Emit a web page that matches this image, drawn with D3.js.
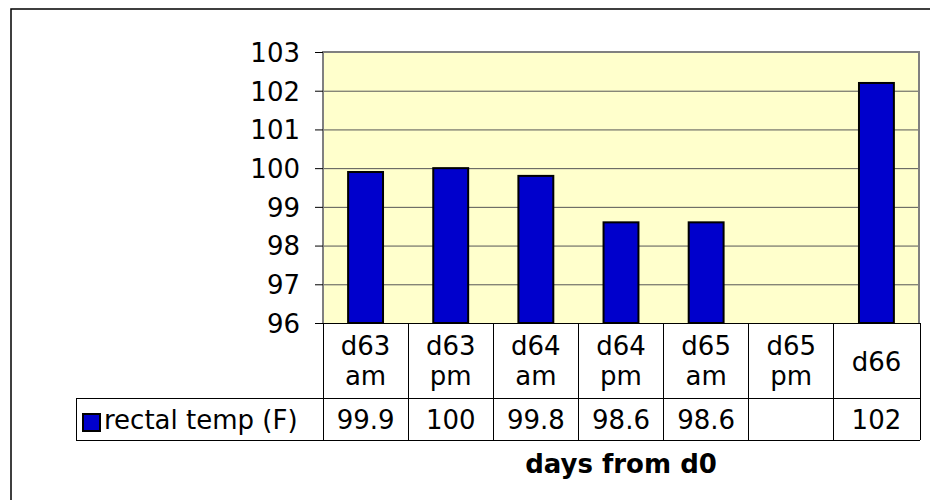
<!DOCTYPE html>
<html>
<head>
<meta charset="utf-8">
<script src="https://cdn.jsdelivr.net/npm/d3@7"></script>
<style>
    body { margin: 0; background: #fff; }
    text { font-family: "DejaVu Sans", Verdana, sans-serif; fill: #000; }
</style>
</head>
<body>
<script>
var categories = ["d63 am", "d63 pm", "d64 am", "d64 pm", "d65 am", "d65 pm", "d66"];
var temps = [99.9, 100, 99.8, 98.6, 98.6, null, 102.2];
var tableText = ["99.9", "100", "99.8", "98.6", "98.6", "", "102"];
var yTicks = [96, 97, 98, 99, 100, 101, 102, 103];
var seriesName = "rectal temp (F)";
var axisTitle = "days from d0";

var width = 930,
    height = 500;

var plot = {
    left: 323,
    right: 919,
    top: 52,
    bottom: 323
};
var table = {
    left: 76,
    row1: 398,
    row2: 440
};
var fontSize = 26;

var svg = d3.select("body").append("svg")
    .attr("width", width)
    .attr("height", height);

// outer frame, runs off the right/bottom of the picture
svg.append("rect")
    .attr("x", 11)
    .attr("y", 9)
    .attr("width", 960)
    .attr("height", 540)
    .style("fill", "#fff")
    .style("stroke", "#000")
    .style("stroke-width", 1.5);

var x = d3.scaleBand()
    .domain(categories)
    .range([plot.left, plot.right]);

var y = d3.scaleLinear()
    .domain([96, 103])
    .range([plot.bottom, plot.top]);

svg.append("rect")
    .attr("x", plot.left)
    .attr("y", plot.top)
    .attr("width", plot.right - plot.left)
    .attr("height", plot.bottom - plot.top)
    .style("fill", "#ffffcc");

// gridlines
svg.append("g")
    .attr("transform", "translate(" + plot.left + ",0)")
    .call(d3.axisLeft(y).tickValues(yTicks).tickSize(-(plot.right - plot.left)).tickFormat(""))
    .call(function(g) {
        g.select(".domain").remove();
        g.selectAll("line").style("stroke", "#555").style("stroke-width", 1);
    });

// plot border
svg.append("path")
    .attr("d", "M" + plot.left + "," + plot.bottom + "V" + plot.top + "H" + plot.right + "V" + plot.bottom)
    .style("fill", "none")
    .style("stroke", "#808080")
    .style("stroke-width", 2);

var barWidth = x.bandwidth() * 0.41;

svg.append("g").selectAll(".bar")
    .data(categories.map(function(c, i) {
        return { cat: c, value: temps[i] };
    }).filter(function(d) { return d.value != null; }))
    .enter().append("rect")
    .attr("class", "bar")
    .attr("x", function(d) { return x(d.cat) + (x.bandwidth() - barWidth) / 2; })
    .attr("y", function(d) { return y(d.value); })
    .attr("width", barWidth)
    .attr("height", function(d) { return y(96) - y(d.value); })
    .style("fill", "#0000cc")
    .style("stroke", "#000")
    .style("stroke-width", 2);

// y axis ticks + labels
svg.append("g")
    .attr("transform", "translate(" + plot.left + ",0)")
    .call(d3.axisLeft(y).tickValues(yTicks).tickSize(8).tickPadding(15).tickFormat(d3.format("d")))
    .call(function(g) {
        g.select(".domain").remove();
        g.selectAll("line").style("stroke", "#000");
        g.selectAll("text")
            .style("font-family", "\"DejaVu Sans\", Verdana, sans-serif")
            .style("font-size", fontSize + "px")
            .attr("dy", "0.36em");
    });

// data table lines
var tableLines = svg.append("g")
    .style("stroke", "#000")
    .style("stroke-width", 1)
    .style("shape-rendering", "crispEdges");

tableLines.append("line")
    .attr("x1", plot.left).attr("x2", plot.right + 1)
    .attr("y1", plot.bottom).attr("y2", plot.bottom);
tableLines.append("line")
    .attr("x1", table.left).attr("x2", plot.right + 1)
    .attr("y1", table.row1).attr("y2", table.row1);
tableLines.append("line")
    .attr("x1", table.left).attr("x2", plot.right + 1)
    .attr("y1", table.row2).attr("y2", table.row2);
tableLines.append("line")
    .attr("x1", table.left).attr("x2", table.left)
    .attr("y1", table.row1).attr("y2", table.row2);

tableLines.selectAll(".col")
    .data(categories.concat(["end"]))
    .enter().append("line")
    .attr("class", "col")
    .attr("x1", function(d, i) { return i < categories.length ? x(d) : plot.right + 1; })
    .attr("x2", function(d, i) { return i < categories.length ? x(d) : plot.right + 1; })
    .attr("y1", plot.bottom)
    .attr("y2", table.row2);

// category labels
var catLabels = svg.append("g").selectAll(".cat")
    .data(categories)
    .enter().append("text")
    .attr("class", "cat")
    .attr("text-anchor", "middle")
    .style("font-size", fontSize + "px");

catLabels.each(function(d) {
    var parts = d.split(" ");
    var cx = x(d) + x.bandwidth() / 2;
    var t = d3.select(this);
    if (parts.length === 1) {
        t.append("tspan").attr("x", cx).attr("y", 371).text(parts[0]);
    } else {
        t.append("tspan").attr("x", cx).attr("y", 355).text(parts[0]);
        t.append("tspan").attr("x", cx).attr("y", 385).text(parts[1]);
    }
});

// values row
svg.append("g").selectAll(".val")
    .data(tableText)
    .enter().append("text")
    .attr("class", "val")
    .attr("x", function(d, i) { return x(categories[i]) + x.bandwidth() / 2; })
    .attr("y", 429)
    .attr("text-anchor", "middle")
    .style("font-size", fontSize + "px")
    .text(function(d) { return d; });

// legend key
svg.append("rect")
    .attr("x", 83)
    .attr("y", 414)
    .attr("width", 17)
    .attr("height", 17)
    .style("fill", "#0000cc")
    .style("stroke", "#000")
    .style("stroke-width", 2);

svg.append("text")
    .attr("x", 104)
    .attr("y", 429)
    .style("font-size", fontSize + "px")
    .text(seriesName);

svg.append("text")
    .attr("x", (plot.left + plot.right) / 2)
    .attr("y", 473)
    .attr("text-anchor", "middle")
    .style("font-size", fontSize + "px")
    .style("font-weight", "bold")
    .text(axisTitle);
</script>
</body>
</html>
